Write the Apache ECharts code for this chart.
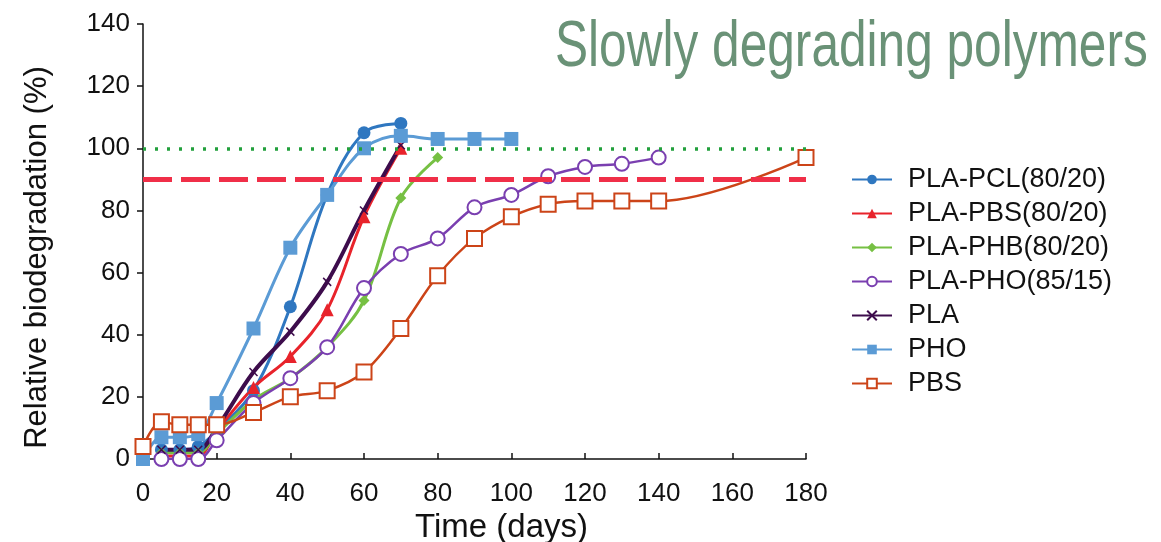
<!DOCTYPE html>
<html>
<head>
<meta charset="utf-8">
<script src="https://cdn.jsdelivr.net/npm/echarts@6/dist/echarts.min.js"></script>
<style>
html,body{margin:0;padding:0;background:#fff;}
#chart{width:1161px;height:542px;}
</style>
</head>
<body>
<div id="chart"></div>
<script>
const titleText = "Slowly degrading polymers";
const xName = "Time (days)";
const yName = "Relative biodegradation (%)";
const xTicks = [0, 20, 40, 60, 80, 100, 120, 140, 160, 180];
const yTicks = [0, 20, 40, 60, 80, 100, 120, 140];
const threshold100 = 100;
const threshold90 = 90;

const seriesNames = ["PLA-PCL(80/20)", "PLA-PBS(80/20)", "PLA-PHB(80/20)", "PLA-PHO(85/15)", "PLA", "PHO", "PBS"];

const tPCL = [5, 10, 15, 20, 30, 40, 50, 60, 70];
const vPCL = [3, 3, 4, 9, 22, 49, 85, 105, 108];
const tPBS8020 = [5, 10, 15, 20, 30, 40, 50, 60, 70];
const vPBS8020 = [1, 1, 1, 9, 23, 33, 48, 78, 100];
const tPHB = [5, 10, 15, 20, 30, 40, 50, 60, 70, 80];
const vPHB = [2, 2, 2, 8, 19, 26, 36, 51, 84, 97];
const tPHO8515 = [5, 10, 15, 20, 30, 40, 50, 60, 70, 80, 90, 100, 110, 120, 130, 140];
const vPHO8515 = [0, 0, 0, 6, 18, 26, 36, 55, 66, 71, 81, 85, 91, 94, 95, 97];
const tPLA = [5, 10, 15, 20, 30, 40, 50, 60, 70];
const vPLA = [3, 3, 3, 10, 28, 41, 57, 80, 101];
const tPHO = [0, 5, 10, 15, 20, 30, 40, 50, 60, 70, 80, 90, 100];
const vPHO = [0, 7, 7, 8, 18, 42, 68, 85, 100, 104, 103, 103, 103];
const tPBS = [0, 5, 10, 15, 20, 30, 40, 50, 60, 70, 80, 90, 100, 110, 120, 130, 140, 180];
const vPBS = [4, 12, 11, 11, 11, 15, 20, 22, 28, 42, 59, 71, 78, 82, 83, 83, 83, 97];

const colors = ["#2f77c0", "#e8232b", "#76c043", "#7a3fb0", "#3d0c4c", "#5b9bd5", "#cc4418"];

function zip(t, v) { return t.map((x, i) => [x, v[i]]); }

const fontTick = "'Liberation Sans', Arial, sans-serif";

const chart = echarts.init(document.getElementById('chart'), null, {renderer: 'canvas'});

const common = {type: 'line', smooth: 0.35, symbolKeepAspect: true};

const option = {
  animation: false,
  backgroundColor: '#fff',
  grid: {left: 143, right: 355, top: 24, bottom: 83, containLabel: false, outerBoundsMode: 'none'},
  legend: {
    orient: 'vertical', left: 846, top: 161,
    itemWidth: 40, itemHeight: 12, itemGap: 7,
    data: seriesNames,
    textStyle: {fontFamily: fontTick, fontSize: 27, color: '#111', lineHeight: 27, padding: [0, 0, 0, 11]}
  },
  graphic: [{
    type: 'text', x: 555, y: 48, scaleX: 0.775,
    style: {text: titleText, fill: '#6a9277', font: "64px 'Liberation Sans', sans-serif", verticalAlign: 'middle', align: 'left'}
  }],
  xAxis: {
    type: 'value', min: 0, max: 180, interval: 20,
    name: xName, nameLocation: 'middle', nameGap: 51,
    nameTextStyle: {fontFamily: fontTick, fontSize: 33, color: '#111', padding: [0, 0, 0, 54]},
    axisLine: {show: true, lineStyle: {color: '#111', width: 1.5}},
    axisTick: {show: true, inside: true, length: 6, lineStyle: {color: '#111', width: 1.5}},
    axisLabel: {fontFamily: fontTick, fontSize: 26, color: '#111', margin: 22,
      customValues: xTicks},
    splitLine: {show: false}
  },
  yAxis: {
    type: 'value', min: 0, max: 140, interval: 20,
    name: yName, nameLocation: 'middle', nameGap: 90, nameRotate: 90,
    nameTextStyle: {fontFamily: fontTick, fontSize: 31, color: '#111', padding: [0, 32, 0, 0]},
    axisLine: {show: true, lineStyle: {color: '#111', width: 1.5}},
    axisTick: {show: true, inside: false, length: 6, lineStyle: {color: '#111', width: 1.5}},
    axisLabel: {fontFamily: fontTick, fontSize: 26, color: '#111', margin: 13, customValues: yTicks},
    splitLine: {show: false}
  },
  series: [
    Object.assign({}, common, {
      name: seriesNames[0], data: zip(tPCL, vPCL),
      symbol: 'circle', symbolSize: 13,
      itemStyle: {color: colors[0]}, lineStyle: {color: colors[0], width: 3},
      markLine: {
        silent: true, symbol: 'none', label: {show: false},
        data: [
          [{coord: [0, threshold100], lineStyle: {color: '#22a03c', width: 3.5, type: [3, 9]}}, {coord: [180, threshold100]}],
          [{coord: [0, threshold90], lineStyle: {color: '#f02f48', width: 5, type: [29, 9]}}, {coord: [180, threshold90]}]
        ]
      }
    }),
    Object.assign({}, common, {
      name: seriesNames[1], data: zip(tPBS8020, vPBS8020),
      symbol: 'triangle', symbolSize: 13,
      itemStyle: {color: colors[1]}, lineStyle: {color: colors[1], width: 3}
    }),
    Object.assign({}, common, {
      name: seriesNames[2], data: zip(tPHB, vPHB),
      symbol: 'diamond', symbolSize: 11,
      itemStyle: {color: colors[2]}, lineStyle: {color: colors[2], width: 3}
    }),
    Object.assign({}, common, {
      name: seriesNames[3], data: zip(tPHO8515, vPHO8515),
      symbol: 'emptyCircle', symbolSize: 14,
      itemStyle: {color: colors[3], borderWidth: 1.5}, lineStyle: {color: colors[3], width: 2.5}
    }),
    Object.assign({}, common, {
      name: seriesNames[4], data: zip(tPLA, vPLA),
      symbol: 'path://M0,0L10,10M10,0L0,10', symbolSize: 8,
      itemStyle: {color: colors[4], borderColor: colors[4], borderWidth: 1.5}, lineStyle: {color: colors[4], width: 4}
    }),
    Object.assign({}, common, {
      name: seriesNames[5], data: zip(tPHO, vPHO),
      symbol: 'rect', symbolSize: 14,
      itemStyle: {color: colors[5]}, lineStyle: {color: colors[5], width: 3}
    }),
    Object.assign({}, common, {
      name: seriesNames[6], data: zip(tPBS, vPBS),
      symbol: 'emptyRect', symbolSize: 15,
      itemStyle: {color: colors[6], borderWidth: 2}, lineStyle: {color: colors[6], width: 2.5}
    })
  ]
};
chart.setOption(option);
</script>
</body>
</html>
